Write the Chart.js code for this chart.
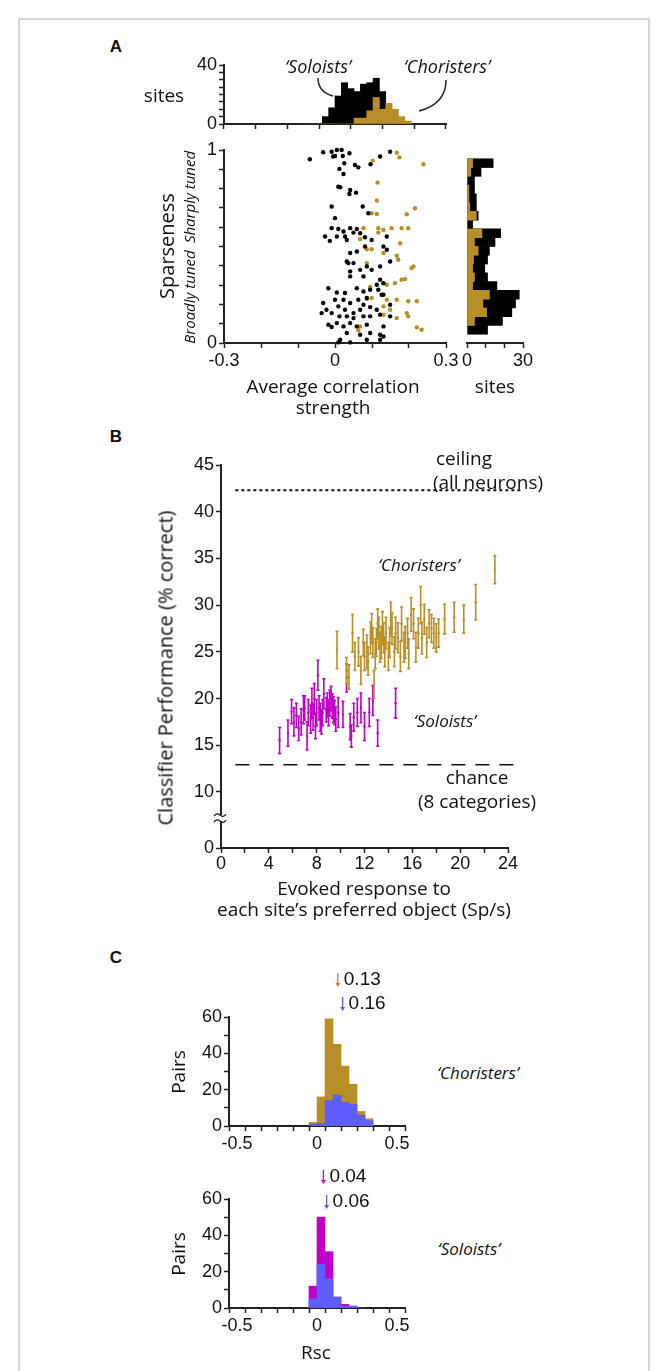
<!DOCTYPE html>
<html>
<head>
<meta charset="utf-8">
<script src="https://cdn.jsdelivr.net/npm/chart.js@4"></script>
<style>
  body { margin: 0; background: #fff; font-family: "Liberation Sans", Arial, sans-serif; }
  #page { position: relative; width: 666px; height: 1371px; overflow: hidden; }
  #frame { position: absolute; left: 18px; top: 18px; width: 628px; height: 1370px; border: 2px solid #d6d6d6; }
  canvas { position: absolute; }
  .t { position: absolute; white-space: nowrap; transform: translate(-50%, -50%); color: #111; }
  .it { font-family: "Open Sans", sans-serif; font-style: italic; }
</style>
</head>
<body>
<div id="page">
  <div id="frame"></div>
  <svg width="666" height="1371" style="position:absolute;left:0;top:0">
    <path d="M318 78 Q318 92 333 96" stroke="#222" stroke-width="1.5" fill="none"/>
    <path d="M446 80 Q446 104 419 111" stroke="#222" stroke-width="1.5" fill="none"/>
  </svg>
</div>
<script>
// Panel A: correlation histogram (bin centres, width 0.02)
const corrBins = [-0.07, -0.05, -0.03, -0.01, 0.01, 0.03, 0.05, 0.07, 0.09, 0.11, 0.13, 0.15, 0.17, 0.19, 0.21, 0.23];
const corrAll = [0.4, 0.4, 5, 11, 19, 28, 24, 22, 27, 28, 31, 22, 0, 0, 0, 0];
const corrChor = [0, 0, 0, 0, 0, 0, 0, 4, 4, 9, 18, 10, 14, 10, 5, 2];

// Panel A: sparseness histogram (bin centres, width 0.05)
const sparseBins = [0.975, 0.925, 0.875, 0.825, 0.775, 0.725, 0.675, 0.625, 0.575, 0.525, 0.475, 0.425, 0.375, 0.325, 0.275, 0.225, 0.175, 0.125, 0.075, 0.025];
const sparseAll = [14, 7.5, 4, 4, 5, 5, 6, 3, 18, 15, 12, 11, 9.5, 11, 16, 28, 26, 24, 19, 11];
const sparseChor = [3, 2, 0, 1, 1, 1.5, 5, 0, 8, 4, 6, 3.5, 3, 4, 3, 12, 8.5, 10.5, 4, 0];

// Panel A scatter: [correlation, sparseness]
const soloistSites = [
  [-0.068,0.952],[-0.032,0.988],[-0.009,0.991],[-0.005,0.966],[0,0.969],[0.005,1.0],[0.018,1.0],[0.021,0.969],
  [0.039,0.983],[0.025,0.931],[0.054,0.922],[0.012,0.902],[0.023,0.876],[0.063,0.91],[0.096,0.926],[0.149,0.991],
  [0.122,0.966],[0.009,0.81],[0.014,0.807],[0.041,0.793],[0.039,0.772],[0.057,0.779],[0.075,0.707],[0.09,0.672],
  [-0.009,0.707],[0,0.647],[-0.009,0.595],[0.009,0.591],[0.023,0.578],[0.041,0.595],[0.05,0.572],[0.059,0.591],
  [-0.027,0.552],[-0.014,0.529],[0.005,0.552],[0.027,0.552],[0.032,0.534],[0.068,0.569],[0.081,0.548],[0.099,0.534],
  [0.14,0.552],[0.041,0.466],[0.059,0.474],[0.081,0.5],[0.131,0.5],[0.14,0.483],[0.032,0.422],[0.036,0.414],
  [0.05,0.414],[0.068,0.379],[0.041,0.371],[0.086,0.397],[0.099,0.379],[0.122,0.397],[0.149,0.422],[0.041,0.345],
  [0.077,0.345],[0.122,0.328],[0.131,0.31],[-0.018,0.284],[0.005,0.262],[0.027,0.259],[0.059,0.284],[0.077,0.267],
  [0.095,0.276],[0.113,0.302],[0.117,0.276],[0.126,0.25],[-0.032,0.207],[0,0.224],[0.023,0.224],[0.041,0.207],
  [0.063,0.224],[0.077,0.198],[0.086,0.233],[0.131,0.25],[-0.023,0.172],[-0.009,0.155],[0.009,0.19],[0.027,0.172],
  [0.05,0.155],[0.068,0.172],[0.095,0.186],[0.113,0.172],[0.149,0.198],[-0.036,0.155],[0.012,0.138],[0.032,0.138],
  [0.05,0.129],[0.077,0.138],[0.095,0.138],[0.122,0.147],[0.149,0.138],[-0.018,0.095],[0.005,0.103],[0.023,0.086],
  [0.041,0.103],[0.059,0.086],[0.086,0.095],[0.131,0.086],[-0.009,0.083],[0.032,0.052],[0.068,0.043],[0.095,0.052],
  [0.122,0.043],[0.014,0.017],[0.086,0.017],[0.122,0.017],[0.131,0.034],[0.041,0.003],[0.009,0.003]
];
const choristerSites = [
  [0.167,0.986],[0.174,0.962],[0.239,0.926],[0.102,0.945],[0.115,0.831],[0.113,0.738],[0.099,0.672],[0.113,0.669],
  [0.216,0.698],[0.194,0.667],[0.077,0.595],[0.117,0.595],[0.131,0.586],[0.153,0.595],[0.18,0.595],[0.198,0.595],
  [0.117,0.572],[0.068,0.538],[0.176,0.517],[0.086,0.486],[0.099,0.486],[0.131,0.466],[0.167,0.452],[0.171,0.431],
  [0.086,0.414],[0.212,0.397],[0.207,0.388],[0.18,0.328],[0.189,0.331],[0.162,0.31],[0.095,0.29],[0.14,0.302],
  [0.099,0.233],[0.086,0.228],[0.14,0.224],[0.167,0.224],[0.198,0.216],[0.221,0.216],[0.131,0.19],[0.149,0.172],
  [0.131,0.147],[0.194,0.155],[0.198,0.138],[0.167,0.129],[0.068,0.086],[0.221,0.081],[0.234,0.069],[0.063,0.066]
];

// Panel B: [evoked response (Sp/s), performance (%), error half-length]
const soloistPerf = [
  [4.9,15.5,1.4],[5.6,16.3,1.4],[5.9,18.6,1.3],[6.1,17.5,1.5],[6.3,18.2,1.3],[6.5,16.8,1.3],[6.7,17.5,1.4],[6.9,18.8,1.5],
  [7.0,19.0,1.3],[7.2,16.0,1.5],[7.3,18.5,1.4],[7.5,17.8,1.5],[7.6,19.5,1.6],[7.7,18.0,1.4],[7.8,20.0,1.6],[7.9,17.0,1.3],
  [8.0,18.5,1.4],[8.1,22.5,1.6],[8.2,19.0,1.3],[8.3,18.0,1.5],[8.4,17.5,1.3],[8.5,18.5,1.4],[8.6,20.5,1.6],[8.8,18.8,1.3],
  [8.9,19.3,1.3],[9.0,18.5,1.4],[9.1,19.5,1.4],[9.2,20.0,1.3],[9.3,19.2,1.3],[9.4,18.8,1.4],[9.5,18.5,1.3],[9.6,17.8,1.3],
  [9.8,18.5,1.6],[10.5,22.2,1.5],[10.2,18.3,1.4],[10.8,17.0,1.4],[10.9,16.0,1.2],[11.1,18.0,1.5],[11.4,18.5,1.5],[11.7,19.0,1.6],
  [12.0,17.0,1.5],[12.4,18.5,1.5],[12.7,19.8,1.6],[13.1,16.3,1.4],[14.6,19.5,1.6]
];
const choristerPerf = [
  [9.7,25.2,2.0],[10.5,23.0,1.4],[10.7,22.3,1.3],[11.0,27.0,2.0],[11.2,24.5,1.5],[11.5,25.0,1.5],[11.7,23.0,1.5],[11.9,26.0,1.4],
  [12.0,24.5,1.5],[12.2,25.0,1.8],[12.3,24.0,1.5],[12.5,26.5,1.7],[12.6,27.5,1.6],[12.7,26.0,1.6],[12.8,21.5,1.5],[12.9,24.8,1.6],
  [13.0,26.0,1.5],[13.1,28.0,1.6],[13.2,27.0,1.7],[13.3,25.5,1.6],[13.4,26.0,1.7],[13.5,27.5,1.8],[13.6,26.5,1.6],[13.7,25.0,1.6],
  [13.8,27.0,1.7],[14.0,24.5,1.5],[14.1,26.0,1.6],[14.2,28.5,1.8],[14.3,27.5,1.7],[14.5,25.0,1.6],[14.6,27.0,1.7],[14.8,26.5,1.6],
  [15.0,24.5,1.6],[15.1,28.0,1.8],[15.3,25.5,1.6],[15.4,26.0,1.7],[15.6,27.0,1.6],[15.7,24.8,1.6],[15.9,29.0,1.8],[16.1,28.0,1.6],
  [16.3,25.5,1.6],[16.5,27.0,1.6],[16.7,30.0,2.0],[16.8,26.5,1.7],[17.0,28.5,1.6],[17.2,26.0,1.6],[17.4,28.0,1.5],[17.6,27.5,1.5],
  [17.8,27.0,1.6],[18.0,26.5,1.5],[18.2,27.0,1.5],[18.7,28.5,1.6],[19.5,28.7,1.6],[20.3,28.5,1.5],[21.3,30.3,1.9],[22.9,33.8,1.5]
];
const ceilingLevel = 42.3;
const chanceLevel = 12.9;

// Panel C: Rsc histograms (bin centres, width 0.05)
const rscBinsChor = [-0.025, 0.025, 0.075, 0.125, 0.175, 0.225, 0.275, 0.325];
const rscChorA = [2, 16, 59, 45, 33, 23, 8, 4];
const rscChorB = [1, 1.5, 14, 17, 13, 12, 6, 3];
const rscBinsSolo = [-0.025, 0.025, 0.075, 0.125, 0.175, 0.225, 0.275];
const rscSoloA = [12, 50, 31, 6, 2, 1, 0];
const rscSoloB = [5, 24, 16, 6, 1, 1, 0];
const rscMeans = { chorA: 0.13, chorB: 0.16, soloA: 0.04, soloB: 0.06 };

const GOLD = '#b88f27', MAG = '#c000c8', BLUE = '#5e5eff';
const TICKFONT = { family: 'Liberation Sans, Arial', size: 18 };
Chart.defaults.color = '#111';
Chart.defaults.animation = false;
Chart.defaults.plugins.legend.display = false;
Chart.defaults.plugins.tooltip.enabled = false;

const page = document.getElementById('page');
const PAD = 22;

function txt(x, y, s, cls, style) {
  const d = document.createElement('div');
  d.className = 't ' + (cls || '');
  d.textContent = s;
  d.style.left = x + 'px'; d.style.top = y + 'px';
  Object.assign(d.style, style || {});
  page.appendChild(d);
}

// canvas so that the plot area lands on (l, t, w, h); yw / xh are axis sizes
function makeChart(l, t, w, h, yw, xh, cfg, padTop) {
  const pt = padTop || PAD;
  const c = document.createElement('canvas');
  const cw = w + yw + 2 * PAD, ch = h + xh + PAD + pt;
  c.width = cw; c.height = ch;
  c.style.left = (l - yw - PAD) + 'px'; c.style.top = (t - pt) + 'px';
  c.style.width = cw + 'px'; c.style.height = ch + 'px';
  page.appendChild(c);
  cfg.options = cfg.options || {};
  cfg.options.responsive = false;
  cfg.options.devicePixelRatio = 1;
  cfg.options.layout = { padding: { left: PAD, right: PAD, bottom: PAD, top: pt } };
  return new Chart(c, cfg);
}

function axis(extra, size, pos) {
  const a = Object.assign({
    position: pos,
    grid: { display: true, drawOnChartArea: false, tickLength: 5, color: '#222', tickWidth: 1.5 },
    border: { display: true, color: '#222', width: 2 },
    afterFit(s) { if (pos === 'left') s.width = size; else s.height = size; }
  }, extra);
  a.ticks = Object.assign({ font: TICKFONT, autoSkip: false, maxRotation: 0, minRotation: 0, padding: 2 }, extra.ticks || {});
  return a;
}

const pick = (labels) => function (v) { const k = Math.round(v * 1000) / 1000; return labels[k] !== undefined ? labels[k] : ''; };

// error bars + annotation lines
const errBars = {
  id: 'errBars',
  afterDatasetsDraw(chart) {
    const ctx = chart.ctx, xs = chart.scales.x, ys = chart.scales.y;
    chart.data.datasets.forEach(ds => {
      if (!ds.err) return;
      ctx.save(); ctx.strokeStyle = ds.borderColor; ctx.lineWidth = 1.6;
      ds.err.forEach((e, i) => {
        const p = ds.data[i], x = xs.getPixelForValue(p.x);
        const y1 = ys.getPixelForValue(p.y - e), y2 = ys.getPixelForValue(p.y + e);
        ctx.beginPath(); ctx.moveTo(x, y1); ctx.lineTo(x, y2);
        ctx.moveTo(x - 1.5, y1); ctx.lineTo(x + 1.5, y1);
        ctx.moveTo(x - 1.5, y2); ctx.lineTo(x + 1.5, y2); ctx.stroke();
      });
      ctx.restore();
    });
  }
};
const refLines = {
  id: 'refLines',
  afterDraw(chart) {
    const ctx = chart.ctx, xs = chart.scales.x, ys = chart.scales.y;
    const x0 = xs.getPixelForValue(1.2), x1 = xs.getPixelForValue(25.1);
    ctx.save(); ctx.strokeStyle = '#111';
    ctx.lineWidth = 2; ctx.setLineDash([3, 3]);
    let y = ys.getPixelForValue(ceilingLevel);
    ctx.beginPath(); ctx.moveTo(x0, y); ctx.lineTo(x1, y); ctx.stroke();
    ctx.lineWidth = 1.5; ctx.setLineDash([14, 10]);
    y = ys.getPixelForValue(chanceLevel);
    ctx.beginPath(); ctx.moveTo(x0, y); ctx.lineTo(x1, y); ctx.stroke();
    // axis break
    ctx.setLineDash([]);
    const bx = xs.left - 1, by = ys.getPixelForValue(7.2);
    ctx.fillStyle = '#fff'; ctx.fillRect(bx - 4, by - 3, 8, 6);
    ctx.lineWidth = 1.3;
    [-3, 3].forEach(o => {
      ctx.beginPath(); ctx.moveTo(bx - 6, by + o + 1);
      ctx.quadraticCurveTo(bx - 3, by + o - 3, bx, by + o);
      ctx.quadraticCurveTo(bx + 3, by + o + 3, bx + 6, by + o - 1); ctx.stroke();
    });
    ctx.restore();
  }
};
const meanArrows = {
  id: 'meanArrows',
  afterDraw(chart, args, opts) {
    const ctx = chart.ctx, xs = chart.scales.x;
    opts.items.forEach(a => {
      const x = xs.getPixelForValue(a.v), y = chart.chartArea.top + a.dy;
      ctx.save(); ctx.strokeStyle = a.c; ctx.fillStyle = a.c; ctx.lineWidth = 1.3;
      ctx.beginPath(); ctx.moveTo(x, y - 14); ctx.lineTo(x, y - 3); ctx.stroke();
      ctx.beginPath(); ctx.moveTo(x - 2.5, y - 4); ctx.lineTo(x + 2.5, y - 4); ctx.lineTo(x, y); ctx.fill();
      ctx.fillStyle = '#111'; ctx.font = '19px Liberation Sans, Arial'; ctx.textBaseline = 'middle';
      ctx.fillText(a.label, x + 6, y - 7);
      ctx.restore();
    });
  }
};

const toPts = (xs, ys) => xs.map((x, i) => ({ x, y: ys[i] }));
const toHPts = (ys, xs) => ys.map((y, i) => ({ x: xs[i], y }));

// ---------- Panel A ----------
makeChart(224, 65, 222, 59, 40, 5, {
  type: 'bar',
  data: { datasets: [
    { data: toPts(corrBins, corrChor), backgroundColor: GOLD, order: 1 },
    { data: toPts(corrBins, corrAll), backgroundColor: '#000', order: 2 }
  ] },
  options: {
    datasets: { bar: { grouped: false, barPercentage: 1, categoryPercentage: 1 } },
    scales: {
      x: axis({ type: 'linear', min: -0.3, max: 0.3, ticks: { display: false, stepSize: 0.1 } }, 5, 'bottom'),
      y: axis({ min: 0, max: 40, ticks: { stepSize: 5, callback: pick({ 0: '0', 40: '40' }) } }, 40, 'left')
    }
  }
});
makeChart(224, 150, 222, 193, 40, 26, {
  type: 'scatter',
  data: { datasets: [
    { data: soloistSites.map(p => ({ x: p[0], y: p[1] })), backgroundColor: '#000', pointRadius: 2.2, borderWidth: 0 },
    { data: choristerSites.map(p => ({ x: p[0], y: p[1] })), backgroundColor: GOLD, pointRadius: 2.2, borderWidth: 0 }
  ] },
  options: {
    clip: false,
    scales: {
      x: axis({ min: -0.3, max: 0.3, ticks: { stepSize: 0.1, callback: pick({ '-0.3': '-0.3', 0: '0', 0.3: '0.3' }) } }, 26, 'bottom'),
      y: axis({ min: 0, max: 1, ticks: { stepSize: 0.1, callback: pick({ 0: '0', 1: '1' }) } }, 40, 'left')
    }
  }
});
makeChart(467, 150, 56, 193, 0, 26, {
  type: 'bar',
  data: { datasets: [
    { data: toHPts(sparseBins, sparseChor), backgroundColor: GOLD, order: 1 },
    { data: toHPts(sparseBins, sparseAll), backgroundColor: '#000', order: 2 }
  ] },
  options: {
    indexAxis: 'y',
    datasets: { bar: { grouped: false, barPercentage: 1, categoryPercentage: 1 } },
    scales: {
      x: axis({ min: 0, max: 30, ticks: { stepSize: 10, callback: pick({ 0: '0', 30: '30' }) } }, 26, 'bottom'),
      y: { type: 'linear', min: 0, max: 1, display: false }
    }
  }
});

// ---------- Panel B ----------
makeChart(221, 465, 287, 383, 48, 24, {
  type: 'scatter',
  data: { datasets: [
    { data: soloistPerf.map(p => ({ x: p[0], y: p[1] })), err: soloistPerf.map(p => p[2]), backgroundColor: MAG, borderColor: MAG, pointRadius: 1.2, borderWidth: 0 },
    { data: choristerPerf.map(p => ({ x: p[0], y: p[1] })), err: choristerPerf.map(p => p[2]), backgroundColor: GOLD, borderColor: GOLD, pointRadius: 1.2, borderWidth: 0 }
  ] },
  options: {
    scales: {
      x: axis({ min: 0, max: 24, ticks: { stepSize: 2, padding: 0, callback: v => (v % 4 === 0 ? String(v) : '') } }, 24, 'bottom'),
      y: axis({ min: 4.0, max: 45,
        afterBuildTicks(s) { s.ticks = [4.0, 10, 15, 20, 25, 30, 35, 40, 45].map(v => ({ value: v })); },
        ticks: { callback: v => (v < 5 ? '0' : String(v)) } }, 48, 'left')
    }
  },
  plugins: [errBars, refLines]
});

// ---------- Panel C ----------
function rscHist(top, bins, a, b, colA, arrows) {
  makeChart(229, top, 176, 109, 40, 26, {
    type: 'bar',
    data: { datasets: [
      { data: toPts(bins, b), backgroundColor: BLUE, order: 1 },
      { data: toPts(bins, a), backgroundColor: colA, order: 2 }
    ] },
    options: {
      datasets: { bar: { grouped: false, barPercentage: 1, categoryPercentage: 1 } },
      plugins: { meanArrows: { items: arrows } },
      scales: {
        x: axis({ type: 'linear', min: -0.5, max: 0.5, ticks: { stepSize: 0.1, callback: pick({ '-0.5': '-0.5', 0: '0', 0.5: '0.5' }) } }, 26, 'bottom'),
        y: axis({ min: 0, max: 60, ticks: { stepSize: 10, callback: pick({ 0: '0', 20: '20', 40: '40', 60: '60' }) } }, 40, 'left')
      }
    },
    plugins: [meanArrows]
  }, 60);
}
rscHist(1017, rscBinsChor, rscChorA, rscChorB, GOLD, [
  { v: rscMeans.chorA, c: GOLD, dy: -30, label: '0.13' },
  { v: rscMeans.chorB, c: BLUE, dy: -6, label: '0.16' }
]);
rscHist(1199, rscBinsSolo, rscSoloA, rscSoloB, MAG, [
  { v: rscMeans.soloA, c: MAG, dy: -15, label: '0.04' },
  { v: rscMeans.soloB, c: BLUE, dy: 10, label: '0.06' }
]);

// ---------- text ----------
const bold = { fontWeight: 'bold', fontSize: '17px' };
txt(116, 47, 'A', '', bold);
txt(116, 437, 'B', '', bold);
txt(116, 958, 'C', '', bold);
const lab = { fontSize: '19px', fontFamily: '"Open Sans", sans-serif' };
const rot = { transform: 'translate(-50%,-50%) rotate(-90deg)' };
txt(318, 66, '\u2018Soloists\u2019', 'it', { fontSize: '18px' });
txt(447, 66, '\u2018Choristers\u2019', 'it', { fontSize: '18px' });
txt(164, 95, 'sites', '', lab);
txt(166, 246, 'Sparseness', '', Object.assign({}, rot, lab, { fontSize: '20px' }));
txt(189, 197, 'Sharply tuned', 'it', Object.assign({ fontSize: '15px' }, rot));
txt(189, 297, 'Broadly tuned', 'it', Object.assign({ fontSize: '15px' }, rot));
txt(333, 386, 'Average correlation', '', lab);
txt(333, 407, 'strength', '', lab);
txt(495, 386, 'sites', '', lab);

txt(464, 458, 'ceiling', '', lab);
txt(488, 482, '(all neurons)', '', lab);
txt(419, 564, '\u2018Choristers\u2019', 'it', { fontSize: '17px' });
txt(445, 720, '\u2018Soloists\u2019', 'it', { fontSize: '17px' });
txt(477, 777, 'chance', '', lab);
txt(477, 801, '(8 categories)', '', lab);
txt(165, 668, 'Classifier Performance (% correct)', '', Object.assign({}, rot, lab, { fontSize: '20px' }));
txt(364, 888, 'Evoked response to', '', lab);
txt(364, 909, 'each site\u2019s preferred object (Sp/s)', '', lab);

txt(178, 1072, 'Pairs', '', Object.assign({}, rot, lab));
txt(178, 1254, 'Pairs', '', Object.assign({}, rot, lab));
txt(478, 1072, '\u2018Choristers\u2019', 'it', { fontSize: '17px' });
txt(469, 1248, '\u2018Soloists\u2019', 'it', { fontSize: '17px' });
txt(316, 1352, 'Rsc', '', lab);
</script>
</body>
</html>
